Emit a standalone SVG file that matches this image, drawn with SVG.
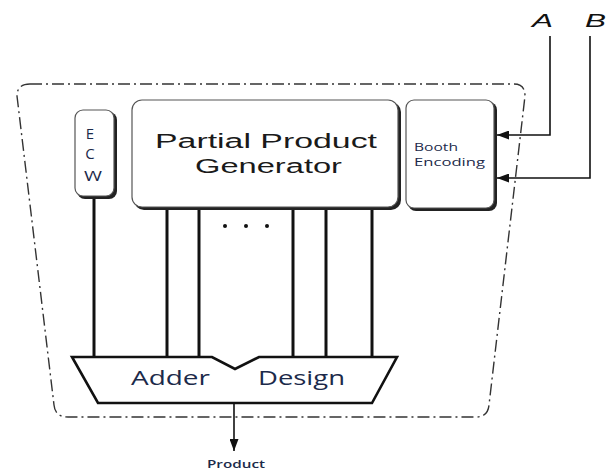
<svg xmlns="http://www.w3.org/2000/svg" width="613" height="473" viewBox="0 0 613 473">
<defs>
<marker id="arr" markerWidth="12" markerHeight="9" refX="12" refY="4.5" orient="auto" markerUnits="userSpaceOnUse">
<path d="M0,0 L12,4.5 L0,9 z" fill="#111"/>
</marker>
<style>
.box{fill:#fff;stroke:#555;stroke-width:1.2}
.shadow{fill:#222}
.wire{stroke:#111;stroke-width:3;fill:none}
.thin{stroke:#111;stroke-width:1.6;fill:none}
.big{font-family:"Liberation Sans",Arial,sans-serif;font-size:20px;fill:#1a1a1a}
.cal{font-family:"Open Sans","Liberation Sans",sans-serif;fill:#1c2a4a}
.io{font-family:"Liberation Sans",Arial,sans-serif;font-style:italic;font-size:19px;fill:#111}
</style>
</defs>
<rect width="613" height="473" fill="#fff"/>

<g id="boundary">
<path d="M30,84 L514,84 Q525,84 525,96 L489,405 Q488,417 476,417 L68,417 Q55,417 54,405 L17,96 Q17,84 30,84 Z" fill="none" stroke="#333" stroke-width="1.4" stroke-dasharray="12 4 2 4"/>
</g>

<g id="connectors">
<line class="wire" x1="94" y1="197" x2="94" y2="358"/>
<line class="wire" x1="167" y1="208" x2="167" y2="358"/>
<line class="wire" x1="199" y1="208" x2="199" y2="358"/>
<line class="wire" x1="293" y1="208" x2="293" y2="358"/>
<line class="wire" x1="326" y1="208" x2="326" y2="358"/>
<line class="wire" x1="372" y1="208" x2="372" y2="358"/>
<circle cx="225" cy="226" r="2" fill="#111"/>
<circle cx="246" cy="226" r="2" fill="#111"/>
<circle cx="267" cy="226" r="2" fill="#111"/>
<path class="thin" d="M550,36 L550,135 L497,135" marker-end="url(#arr)"/>
<path class="thin" d="M590,36 L590,178 L497,178" marker-end="url(#arr)"/>
<path class="thin" d="M234,404 L234,451" marker-end="url(#arr)"/>
</g>

<g id="ecw">
<rect class="shadow" x="77" y="112" width="40" height="87" rx="8"/>
<rect class="box" x="75" y="110" width="39" height="86" rx="8"/>
<text class="cal" x="90" y="139" font-size="15" text-anchor="middle">E</text>
<text class="cal" x="90" y="159" font-size="15" text-anchor="middle">C</text>
<text class="cal" x="93" y="181" font-size="15" text-anchor="middle" textLength="18" lengthAdjust="spacingAndGlyphs">W</text>
</g>

<g id="ppg">
<rect class="shadow" x="134" y="102" width="267" height="108" rx="10"/>
<rect class="box" x="132" y="100" width="266" height="107" rx="10"/>
<text class="big" x="155" y="148" textLength="222" lengthAdjust="spacingAndGlyphs">Partial Product</text>
<text class="big" x="195" y="173" textLength="147" lengthAdjust="spacingAndGlyphs">Generator</text>
</g>

<g id="booth">
<rect class="shadow" x="408" y="102" width="89" height="109" rx="8"/>
<rect class="box" x="406" y="100" width="88" height="108" rx="8"/>
<text class="cal" x="414" y="151" font-size="11" textLength="44" lengthAdjust="spacingAndGlyphs">Booth</text>
<text class="cal" x="414" y="166" font-size="11" textLength="71" lengthAdjust="spacingAndGlyphs">Encoding</text>
</g>

<g id="adder">
<path d="M72,357 L212,357 L235,369 L259,357 L397,357 L372,403 L98,403 Z" fill="#fff" stroke="#111" stroke-width="2.6" stroke-linejoin="miter"/>
<text class="cal" x="131" y="385" font-size="20" textLength="79" lengthAdjust="spacingAndGlyphs" fill="#111">Adder</text>
<text class="cal" x="258" y="385" font-size="20" textLength="87" lengthAdjust="spacingAndGlyphs" fill="#111">Design</text>
</g>

<g id="labels">
<text class="io" x="532" y="27" textLength="21" lengthAdjust="spacingAndGlyphs">A</text>
<text class="io" x="585" y="27" textLength="21" lengthAdjust="spacingAndGlyphs">B</text>
<text class="cal" x="207" y="468" font-size="11" font-weight="600" textLength="58" lengthAdjust="spacingAndGlyphs">Product</text>
</g>
</svg>
